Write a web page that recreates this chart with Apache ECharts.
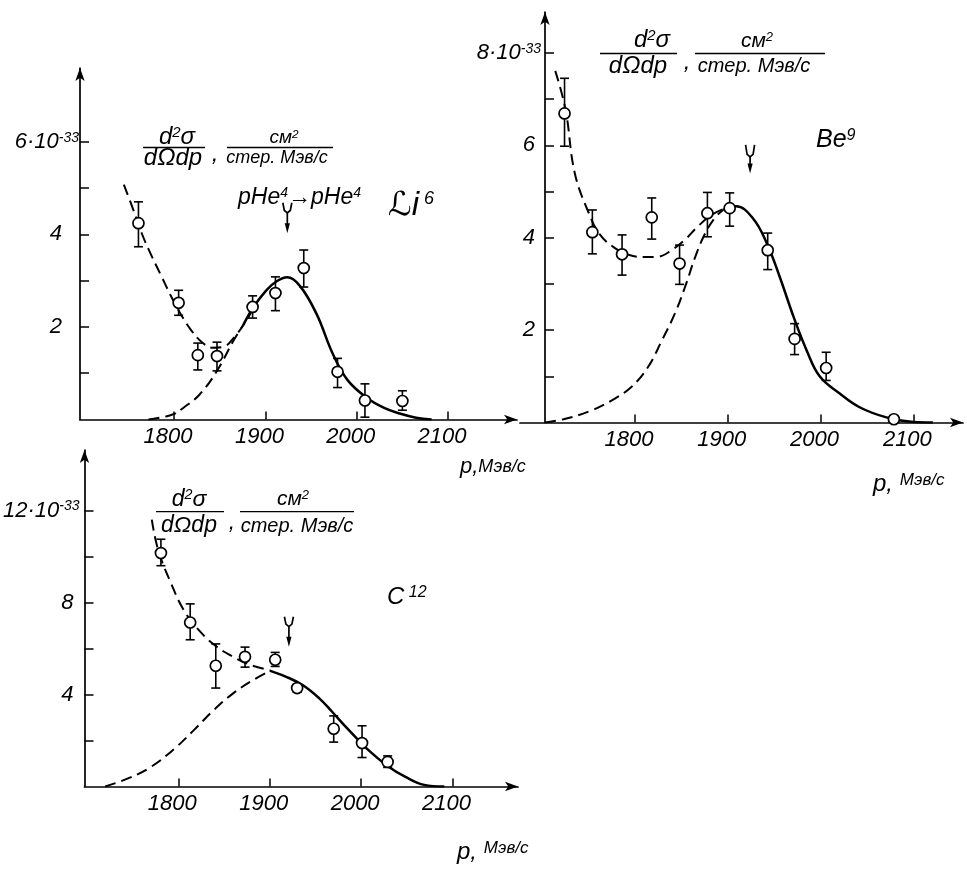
<!DOCTYPE html>
<html><head><meta charset="utf-8">
<script src="https://cdn.jsdelivr.net/npm/echarts@6/dist/echarts.min.js"></script>
<style>html,body{margin:0;padding:0;background:#fff}#c{width:967px;height:870px}</style>
</head><body><div id="c"></div>
<script>
// ---------- DATA ----------
// tick values / labels
const xTicks = [1800, 1900, 2000, 2100];
const li6YTicks = [1, 2, 3, 4, 5, 6];
const li6YLabels = [2, 4, 6];
const be9YTicks = [1, 2, 3, 4, 5, 6, 7, 8];
const be9YLabels = [2, 4, 6, 8];
const c12YTicks = [2, 4, 6, 8, 10, 12];
const c12YLabels = [4, 8, 12];

// Li6 measured points (p, value, error low, error high)
const li6P   = [1761, 1805, 1826, 1847, 1886, 1911, 1942, 1979, 2009, 2050];
const li6V   = [4.24, 2.52, 1.39, 1.37, 2.43, 2.73, 3.27, 1.03, 0.41, 0.40];
const li6Lo  = [3.73, 2.25, 1.07, 1.05, 2.19, 2.35, 2.86, 0.69, 0.05, 0.20];
const li6Hi  = [4.70, 2.79, 1.65, 1.67, 2.67, 3.08, 3.66, 1.32, 0.77, 0.62];
const li6Solid = [[1876,2.05],[1887,2.43],[1901,2.79],[1912,2.98],[1924,3.07],[1938,2.88],[1956,2.28],[1974,1.41],[1990,0.85],[2011,0.47],[2030,0.25],[2047,0.13],[2065,0.04],[2082,0]];
const li6DashLow = [[1772,0],[1790,0.06],[1800,0.12],[1810,0.25],[1828,0.54],[1847,1.05],[1865,1.7],[1876,2.05]];
const li6DashUp = [[1745,5.07],[1755,4.55],[1765,4.0],[1775,3.55],[1786,3.1],[1797,2.65],[1808,2.25],[1819,1.92],[1830,1.68],[1842,1.55],[1854,1.57],[1866,1.78],[1878,2.1],[1888,2.45]];
const li6Arrow = [1924, 4.68, 4.46, 4.02];

// Be9
const be9P  = [1724, 1754, 1786, 1818, 1848, 1878, 1902, 1943, 1972, 2006, 2079];
const be9V  = [6.69, 4.12, 3.64, 4.44, 3.44, 4.53, 4.64, 3.73, 1.81, 1.18, 0.07];
const be9Lo = [5.98, 3.65, 3.19, 3.97, 2.99, 4.02, 4.25, 3.31, 1.47, 0.91, 0.02];
const be9Hi = [7.45, 4.60, 4.06, 4.86, 3.84, 4.98, 4.97, 4.10, 2.14, 1.52, 0.14];
const be9Solid = [[1895,4.6],[1909,4.68],[1927,4.42],[1942,3.88],[1956,3.15],[1971,2.28],[1985,1.56],[1999,1.0],[2021,0.62],[2042,0.33],[2071,0.11],[2100,0.01],[2121,0]];
const be9DashLow = [[1703,0],[1725,0.08],[1753,0.26],[1775,0.48],[1796,0.77],[1814,1.2],[1829,1.78],[1843,2.36],[1854,2.94],[1865,3.59],[1875,4.07],[1886,4.43],[1895,4.6]];
const be9DashUp = [[1714,7.61],[1725,6.78],[1735,5.4],[1750,4.54],[1762,4.07],[1778,3.78],[1793,3.63],[1811,3.58],[1825,3.59],[1840,3.74],[1854,3.96],[1868,4.25],[1883,4.5],[1895,4.62]];
const be9Arrow = [1924, 6.01, 5.75, 5.39];

// C12
const c12P  = [1781, 1813, 1841, 1873, 1906, 1930, 1970, 2001, 2029];
const c12V  = [10.15, 7.13, 5.25, 5.64, 5.51, 4.28, 2.51, 1.89, 1.07];
const c12Lo = [9.6, 6.38, 4.28, 5.19, 5.22, 4.1, 1.93, 1.26, 0.83];
const c12Hi = [10.75, 7.94, 6.2, 6.06, 5.83, 4.4, 3.07, 2.64, 1.33];
const c12Solid = [[1900,5.04],[1918,4.77],[1936,4.41],[1954,3.84],[1968,3.26],[1983,2.6],[1997,2.02],[2012,1.44],[2030,0.86],[2048,0.43],[2069,0.07],[2091,0]];
const c12DashLow = [[1720,0],[1745,0.35],[1770,0.85],[1796,1.65],[1817,2.45],[1839,3.33],[1860,4.05],[1882,4.63],[1900,5.02]];
const c12DashUp = [[1771,11.6],[1778,10.28],[1792,8.84],[1806,7.67],[1824,6.73],[1842,6.08],[1860,5.64],[1878,5.3],[1900,5.06]];
const c12Arrow = [1921, 7.38, 6.95, 6.08];

// ---------- RENDER ----------
const FONT = "'Liberation Sans','DejaVu Sans',sans-serif";
const BLK = '#000';

function errRender(params, api) {
  const x = api.value(0), lo = api.value(1), hi = api.value(2);
  const a = api.coord([x, hi]), b = api.coord([x, lo]);
  const w = 4.5, st = {stroke: BLK, lineWidth: 1.6};
  return {type: 'group', children: [
    {type: 'line', shape: {x1: a[0], y1: a[1], x2: b[0], y2: b[1]}, style: st},
    {type: 'line', shape: {x1: a[0]-w, y1: a[1], x2: a[0]+w, y2: a[1]}, style: st},
    {type: 'line', shape: {x1: b[0]-w, y1: b[1], x2: b[0]+w, y2: b[1]}, style: st}
  ]};
}
function arrowRender(params, api) {
  const x = api.value(0);
  const top = api.coord([x, api.value(1)]);
  const fork = api.coord([x, api.value(2)]);
  const tip = api.coord([x, api.value(3)]);
  const cx = fork[0];
  const st = {stroke: BLK, lineWidth: 1.7, fill: null};
  return {type: 'group', children: [
    {type: 'polyline', shape: {points: [[cx-4.5, top[1]], [cx-3, fork[1]-2.5], [cx, fork[1]], [cx+3, fork[1]-2.5], [cx+4.5, top[1]]]}, style: st},
    {type: 'line', shape: {x1: cx, y1: fork[1], x2: cx, y2: tip[1]-6}, style: st},
    {type: 'polygon', shape: {points: [[cx-2.6, tip[1]-10], [cx+2.6, tip[1]-10], [cx, tip[1]]]}, style: {fill: BLK}}
  ]};
}

function zipErr(p, lo, hi) { return p.map((x, i) => [x, lo[i], hi[i]]); }
function zipPts(p, v) { return p.map((x, i) => [x, v[i]]); }

function panelSeries(idx, solid, dLow, dUp, p, v, lo, hi, arrow) {
  const ax = {xAxisIndex: idx, yAxisIndex: idx};
  return [
    Object.assign({type: 'line', data: solid, smooth: 0.4, showSymbol: false, symbol: 'none',
      lineStyle: {color: BLK, width: 2.5}, z: 3}, ax),
    Object.assign({type: 'line', data: dLow, smooth: 0.4, showSymbol: false, symbol: 'none',
      lineStyle: {color: BLK, width: 2, type: [11, 6]}, z: 3}, ax),
    Object.assign({type: 'line', data: dUp, smooth: 0.4, showSymbol: false, symbol: 'none',
      lineStyle: {color: BLK, width: 2, type: [11, 6]}, z: 3}, ax),
    Object.assign({type: 'custom', renderItem: errRender, data: zipErr(p, lo, hi),
      encode: {x: 0, y: [1, 2]}, z: 4}, ax),
    Object.assign({type: 'scatter', data: zipPts(p, v), symbol: 'circle', symbolSize: 11,
      itemStyle: {color: '#fff', borderColor: BLK, borderWidth: 1.7, opacity: 1}, z: 5}, ax),
    Object.assign({type: 'custom', renderItem: arrowRender, data: [arrow],
      encode: {x: 0, y: [1, 2, 3]}, z: 4}, ax)
  ];
}

const axisLineStyle = {show: true, symbol: ['none', 'arrow'], symbolSize: [7, 13], lineStyle: {color: BLK, width: 1.7}};
function xAxisDef(idx, min, max) {
  return {type: 'value', gridIndex: idx, min: min, max: max, splitLine: {show: false},
    axisLine: axisLineStyle,
    axisTick: {show: true, inside: true, length: 8, customValues: xTicks, lineStyle: {color: BLK, width: 1.5}},
    axisLabel: {customValues: xTicks, margin: 6, color: BLK, fontFamily: FONT, fontStyle: 'italic',
      fontSize: 22, padding: [0, 12, 0, 0], formatter: v => String(v)}};
}
function yAxisDef(idx, max, ticks, labels, top, pad, margin, offset) {
  return {type: 'value', gridIndex: idx, min: 0, max: max, splitLine: {show: false}, offset: offset || 0,
    axisLine: axisLineStyle,
    axisTick: {show: true, inside: true, length: 9, customValues: ticks, lineStyle: {color: BLK, width: 1.5}},
    axisLabel: {customValues: labels, margin: margin, color: BLK,
      formatter: v => v === top ? '{m|' + top + '·10}{s|-33}' : '{n|' + v + '}',
      rich: {
        m: {fontFamily: FONT, fontStyle: 'italic', fontSize: 22, color: BLK},
        s: {fontFamily: FONT, fontStyle: 'italic', fontSize: 14, color: BLK, verticalAlign: 'top'},
        n: {fontFamily: FONT, fontStyle: 'italic', fontSize: 22, color: BLK, padding: [0, pad, 0, 0]}
      }}};
}

function txt(x, y, rich, text, align) {
  return {type: 'text', x: x, y: y, silent: true,
    style: {text: text, rich: rich, align: align || 'center', verticalAlign: 'middle', fill: BLK}};
}
function ln(x1, x2, y) {
  return {type: 'line', silent: true, shape: {x1: x1, y1: y, x2: x2, y2: y}, style: {stroke: BLK, lineWidth: 1.3}};
}
function R(size, extra) {
  return Object.assign({fontFamily: FONT, fontStyle: 'italic', fontSize: size, fill: BLK, color: BLK}, extra || {});
}
function fracGroup(o) {
  const r1 = {a: R(o.f1), s: R(o.f1 * 0.62, {verticalAlign: 'top'})};
  const rn = {a: R(o.fn), s: R(o.fn * 0.62, {verticalAlign: 'top'})};
  const r2 = {a: R(o.f2)};
  return [
    txt(o.n1x, o.n1y, r1, '{a|d}{s|2}{a|σ}'),
    ln(o.l1a, o.l1b, o.ly),
    txt(o.d1x, o.d1y, r1, '{a|dΩdp}'),
    txt(o.cx, o.cy, r1, '{a|,}'),
    txt(o.n2x, o.n2y, rn, '{a|см}{s|2}'),
    ln(o.l2a, o.l2b, o.ly),
    txt(o.d2x, o.d2y, r2, '{a|стер. Мэв/с}')
  ];
}

const graphics = [].concat(
  fracGroup({f1: 24, fn: 19, f2: 18, n1x: 177, n1y: 137, l1a: 143, l1b: 205, ly: 147.5, d1x: 173, d1y: 158, cx: 215, cy: 154,
    n2x: 284, n2y: 138, l2a: 227, l2b: 333, d2x: 277, d2y: 158}),
  fracGroup({f1: 24, fn: 21, f2: 20, n1x: 652, n1y: 40, l1a: 600, l1b: 677, ly: 53.5, d1x: 638, d1y: 66, cx: 687, cy: 62,
    n2x: 757, n2y: 41, l2a: 695, l2b: 825, d2x: 754, d2y: 66}),
  fracGroup({f1: 23, fn: 21, f2: 20, n1x: 189, n1y: 500, l1a: 156, l1b: 224, ly: 511.7, d1x: 189, d1y: 526, cx: 232, cy: 523,
    n2x: 293, n2y: 499, l2a: 240, l2b: 354, d2x: 297, d2y: 526}),
  [
    txt(238, 198, {a: R(23), s: R(14, {verticalAlign: 'top'})}, '{a|pHe}{s|4}{a|→pHe}{s|4}', 'left'),
    txt(388, 206, {a: R(33), s: R(18, {verticalAlign: 'top'})}, '{a|ℒi}{s| 6}', 'left'),
    txt(460, 467, {a: R(22), s: R(18)}, '{a|p,}{s|Мэв/с}', 'left'),
    txt(816, 140, {a: R(25), s: R(16, {verticalAlign: 'top'})}, '{a|Be}{s|9}', 'left'),
    txt(873, 484, {a: R(24), s: R(17, {verticalAlign: 'top'})}, '{a|p, }{s|Мэв/с}', 'left'),
    txt(387, 597, {a: R(24), s: R(16, {verticalAlign: 'top'})}, '{a|C}{s| 12}', 'left'),
    txt(457, 852, {a: R(24), s: R(17, {verticalAlign: 'top'})}, '{a|p, }{s|Мэв/с}', 'left')
  ]
);

const option = {
  animation: false,
  backgroundColor: '#fff',
  grid: [
    {left: 80, top: 68, width: 437, height: 351.5},
    {left: 520, top: 12, width: 443, height: 410.5},
    {left: 79, top: 450, width: 439, height: 336.5}
  ],
  xAxis: [
    xAxisDef(0, 1697, 2175.5),
    xAxisDef(1, 1676, 2153.5),
    xAxisDef(2, 1697.4, 2171.6)
  ],
  yAxis: [
    yAxisDef(0, 7.59, li6YTicks, li6YLabels, 6, 17, 1),
    yAxisDef(1, 8.885, be9YTicks, be9YLabels, 8, 6, 4, -25),
    yAxisDef(2, 14.63, c12YTicks, c12YLabels, 12, 6, 5)
  ],
  series: [].concat(
    panelSeries(0, li6Solid, li6DashLow, li6DashUp, li6P, li6V, li6Lo, li6Hi, li6Arrow),
    panelSeries(1, be9Solid, be9DashLow, be9DashUp, be9P, be9V, be9Lo, be9Hi, be9Arrow),
    panelSeries(2, c12Solid, c12DashLow, c12DashUp, c12P, c12V, c12Lo, c12Hi, c12Arrow)
  ),
  graphic: graphics
};

const chart = echarts.init(document.getElementById('c'));
chart.setOption(option);
</script>
</body></html>
